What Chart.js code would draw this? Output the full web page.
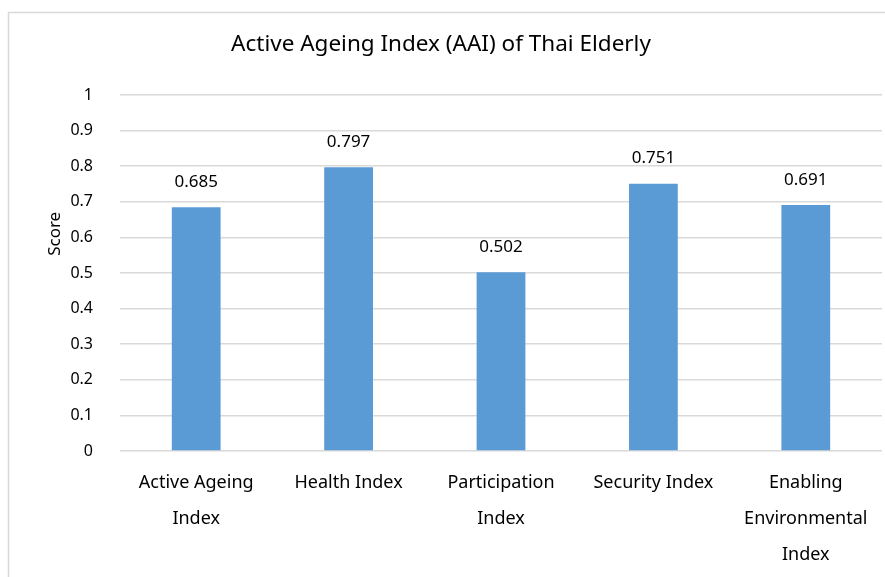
<!DOCTYPE html>
<html>
<head>
<meta charset="utf-8">
<script src="https://cdn.jsdelivr.net/npm/chart.js@4.4.1/dist/chart.umd.min.js"></script>
<style>
  html, body { margin: 0; padding: 0; background: #fff; }
  #wrap { position: absolute; left: 0; top: 0; width: 885px; height: 577px; }
</style>
</head>
<body>
<div id="wrap"><canvas id="grafico-aai" width="885" height="577"></canvas></div>
<script>
// datos del índice AAI
const categorias = [
  ['Active Ageing', 'Index'],
  ['Health Index'],
  ['Participation', 'Index'],
  ['Security Index'],
  ['Enabling', 'Environmental', 'Index']
];
const puntajes = [0.685, 0.797, 0.502, 0.751, 0.691];
const ticksY = [0, 0.1, 0.2, 0.3, 0.4, 0.5, 0.6, 0.7, 0.8, 0.9, 1];

const FUENTE = "'Noto Sans', 'DejaVu Sans', sans-serif";
const AZUL = '#5B9BD5';
const GRIS = '#d9d9d9';

// marco gris alrededor del gráfico
const marco = {
  id: 'marco',
  beforeDraw(chart) {
    const ctx = chart.ctx;
    ctx.save();
    ctx.strokeStyle = GRIS;
    ctx.lineWidth = 1.5;
    ctx.strokeRect(8.5, 12.5, chart.width + 20, chart.height + 20);
    ctx.restore();
  }
};

// valores encima de cada barra
const etiquetasValor = {
  id: 'etiquetasValor',
  afterDatasetsDraw(chart) {
    const ctx = chart.ctx;
    const meta = chart.getDatasetMeta(0);
    ctx.save();
    ctx.font = '17px ' + FUENTE;
    ctx.fillStyle = '#000';
    ctx.textAlign = 'center';
    ctx.textBaseline = 'middle';
    meta.data.forEach((bar, i) => {
      ctx.fillText(puntajes[i].toFixed(3), bar.x, bar.y - 25);
    });
    ctx.restore();
  }
};

// título del eje Y, algo por encima del centro
const tituloEjeY = {
  id: 'tituloEjeY',
  afterDraw(chart) {
    const ctx = chart.ctx;
    const area = chart.chartArea;
    ctx.save();
    ctx.font = '17px ' + FUENTE;
    ctx.fillStyle = '#000';
    ctx.textAlign = 'center';
    ctx.textBaseline = 'middle';
    ctx.translate(55, area.top + (area.bottom - area.top) * 0.39);
    ctx.rotate(-Math.PI / 2);
    ctx.fillText('Score', 0, 0);
    ctx.restore();
  }
};

const ctx = document.getElementById('grafico-aai').getContext('2d');
new Chart(ctx, {
  type: 'bar',
  data: {
    labels: categorias,
    datasets: [{
      label: 'Score',
      data: puntajes,
      backgroundColor: AZUL,
      borderWidth: 0,
      barPercentage: 0.32,
      categoryPercentage: 1
    }]
  },
  options: {
    responsive: false,
    animation: false,
    layout: { padding: { top: 21, right: 3, left: 0, bottom: 0 } },
    plugins: {
      legend: { display: false },
      tooltip: { enabled: false },
      title: {
        display: true,
        text: 'Active Ageing Index (AAI) of Thai Elderly',
        color: '#000',
        font: { family: FUENTE, size: 22.5, weight: 'normal', lineHeight: 1.2 },
        padding: { top: 10, bottom: 37 }
      }
    },
    scales: {
      x: {
        grid: { display: false, drawTicks: false },
        border: { display: false },
        ticks: {
          color: '#000',
          font: { family: FUENTE, size: 18, lineHeight: 2 },
          padding: 14,
          maxRotation: 0,
          autoSkip: false
        },
        afterFit(scale) { scale.height = 126; }
      },
      y: {
        min: 0,
        max: 1,
        afterBuildTicks(scale) { scale.ticks = ticksY.map(v => ({ value: v })); },
        grid: { color: GRIS, lineWidth: 1.5, drawTicks: false },
        border: { display: false },
        ticks: {
          color: '#000',
          font: { family: FUENTE, size: 16 },
          padding: 27,
          callback: v => String(v)
        },
        afterFit(scale) { scale.width = 120; }
      }
    }
  },
  plugins: [marco, etiquetasValor, tituloEjeY]
});
</script>
</body>
</html>
